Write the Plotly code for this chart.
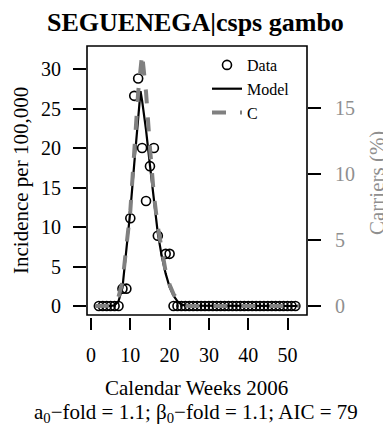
import plotly.graph_objects as go

# ---- data ----
weeks = list(range(2, 53))
incidence = ([0, 0, 0, 0, 0, 0,            # weeks 2-7
              2.2, 2.2, 11.1, 26.6, 28.8,   # weeks 8-12
              20.0, 13.3, 17.7, 20.0, 8.9,  # weeks 13-17
              None, 6.6, 6.6]               # weeks 18-20
             + [0] * 32)                    # weeks 21-52

model_weeks = [1, 5, 6, 7, 8, 9, 10, 11, 12, 12.6, 13, 14, 15, 16, 17, 18,
               19, 20, 21, 22, 23, 24, 53]
model_vals = [0, 0, 0.1, 0.6, 2.3, 6.8, 12.0, 18.0, 23.8, 27.2, 26.0, 22.3,
              17.8, 13.2, 9.2, 6.3, 4.1, 2.4, 1.3, 0.6, 0.2, 0.05, 0]

carrier_weeks = [1, 5, 6, 7, 8, 9, 10, 11, 12, 13, 14, 15, 16, 17, 18, 19,
                 20, 21, 22, 23, 24, 25, 53]
carrier_vals = [0, 0.03, 0.18, 0.7, 1.8, 4.2, 7.2, 11.7, 16.2, 19.1, 16.2,
                12.0, 8.4, 6.0, 4.1, 2.6, 1.6, 0.9, 0.5, 0.2, 0.05, 0, 0]

x_ticks = [0, 10, 20, 30, 40, 50]
y_ticks = [0, 5, 10, 15, 20, 25, 30]
y2_ticks = [0, 5, 10, 15]

title_text = "SEGUENEGA|csps gambo"
x_title = "Calendar Weeks 2006"
sub_title = "a<sub>0</sub>\u2212fold = 1.1; \u03b2<sub>0</sub>\u2212fold = 1.1; AIC = 79"
y_title = "Incidence per 100,000"
y2_title = "Carriers (%)"

FONT = "Liberation Serif"
GREY_LINE = "#808080"
GREY_TEXT = "#8f8f8f"

fig = go.Figure()
fig.add_trace(go.Scatter(
    x=weeks, y=incidence, mode="markers", name="Data",
    marker=dict(symbol="circle-open", size=9, color="black",
                line=dict(width=1.6, color="black"))))
fig.add_trace(go.Scatter(
    x=model_weeks, y=model_vals, mode="lines", name="Model",
    line=dict(color="black", width=2.2)))
fig.add_trace(go.Scatter(
    x=carrier_weeks, y=carrier_vals, mode="lines", name="C", yaxis="y2",
    line=dict(color=GREY_LINE, width=4, dash="14px,14px")))

# The page has an 8px body margin, so the figure is made 8px smaller and
# positions (given in window pixels) are shifted by OFF.
OFF = 8
W, H = 391 - OFF, 430 - OFF
L, R = 87 - OFF, 391 - 307
T, B = 46 - OFF, 430 - 317
PW, PH = W - L - R, H - T - B

def px_x(px):
    return (px - OFF - L) / PW

def px_y(py):
    return (H - B - (py - OFF)) / PH

fig.update_layout(
    template="none",
    width=W, height=H,
    margin=dict(l=L, r=R, t=T, b=B, pad=0, autoexpand=False),
    paper_bgcolor="white", plot_bgcolor="white",
    font=dict(family=FONT, size=20, color="black"),
    showlegend=True,
    legend=dict(x=px_x(207), y=px_y(48), xanchor="left", yanchor="top",
                bgcolor="rgba(0,0,0,0)", borderwidth=0,
                font=dict(family=FONT, size=16, color="black"),
                tracegroupgap=0, itemwidth=30),
    xaxis=dict(range=[-1.02, 54.96], tickvals=x_ticks, ticks="outside",
               ticklen=12, tickwidth=1.5, tickcolor="black",
               showgrid=False, zeroline=False, showline=False,
               automargin=False, ticklabelstandoff=8,
               tickfont=dict(family=FONT, size=20, color="black")),
    yaxis=dict(range=[-1.39, 32.91], tickvals=y_ticks, ticks="outside",
               ticklen=13, tickwidth=1.5, tickcolor="black",
               showgrid=False, zeroline=False, showline=False,
               automargin=False, ticklabelstandoff=8,
               tickfont=dict(family=FONT, size=20, color="black")),
    yaxis2=dict(range=[-0.833, 19.70], tickvals=y2_ticks, overlaying="y",
                side="right", ticks="outside", ticklen=13, tickwidth=1.5,
                tickcolor="black", showgrid=False, zeroline=False,
                showline=False, automargin=False, ticklabelstandoff=10,
                tickfont=dict(family=FONT, size=20, color=GREY_TEXT)),
    shapes=[dict(type="rect", xref="paper", yref="paper",
                 x0=0, x1=1, y0=px_y(315), y1=1,
                 line=dict(color="black", width=1.6), layer="above")],
    annotations=[
        dict(text="<b>" + title_text + "</b>", xref="paper", yref="paper",
             x=px_x(195.5), y=px_y(22), xanchor="center", yanchor="middle",
             showarrow=False, font=dict(family=FONT, size=26, color="black")),
        dict(text=y_title, xref="paper", yref="paper", x=px_x(21),
             y=px_y(181), textangle=-90, xanchor="center", yanchor="middle",
             showarrow=False, font=dict(family=FONT, size=21, color="black")),
        dict(text=y2_title, xref="paper", yref="paper", x=px_x(377),
             y=px_y(183), textangle=-90, xanchor="center", yanchor="middle",
             showarrow=False, font=dict(family=FONT, size=21, color=GREY_TEXT)),
        dict(text=x_title, xref="paper", yref="paper", x=px_x(196),
             y=px_y(388), xanchor="center", yanchor="middle",
             showarrow=False, font=dict(family=FONT, size=21, color="black")),
        dict(text=sub_title, xref="paper", yref="paper", x=px_x(196),
             y=px_y(413), xanchor="center", yanchor="middle",
             showarrow=False, font=dict(family=FONT, size=21, color="black")),
    ],
)

fig.write_html("out.html")
